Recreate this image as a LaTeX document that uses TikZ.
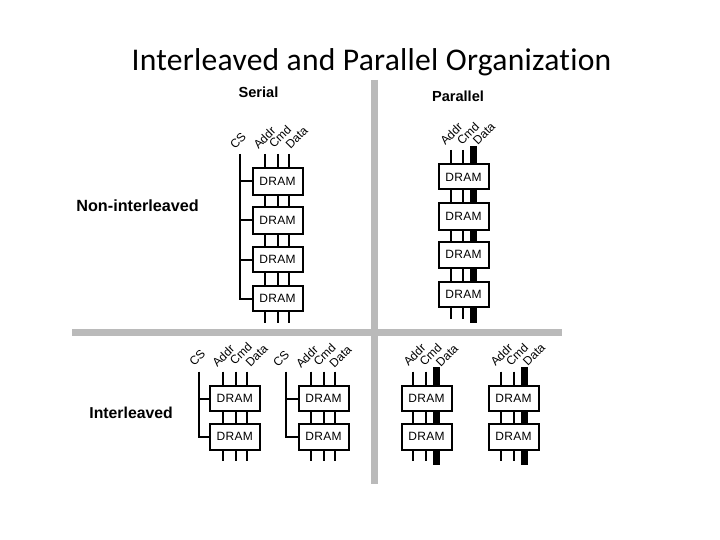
\documentclass[tikz,border=0pt]{standalone}
\usepackage{fontspec}
\setmainfont{Liberation Sans}
\newfontfamily\titlefont[Ligatures=NoCommon,LetterSpace=0.8]{Carlito}
\usetikzlibrary{backgrounds}
\tikzset{
  dram/.style={draw=black,line width=2pt,fill=white,inner sep=0pt,outer sep=0pt,font=\fontsize{12}{13}\selectfont\addfontfeature{LetterSpace=2}},
  sig/.style={draw=black,line width=2pt},
  fat/.style={draw=black,line width=7pt},
  sigtext/.style={rotate=45,inner sep=0pt,font=\fontsize{12}{13}\selectfont},
  headtext/.style={inner sep=0pt,font=\fontsize{14.6}{16}\selectfont\bfseries},
  sidetext/.style={inner sep=0pt,anchor=east,font=\fontsize{15.8}{18}\selectfont\bfseries},
  bar/.style={draw=black!27,line width=7pt},
}
\newcommand{\dramat}[5]{\node[dram,minimum width=#3pt-#2pt,minimum height=#5pt-#4pt] (#1) at ({(#2+#3)/2},{(#4+#5)/2}) {DRAM};}
\begin{document}
\begin{tikzpicture}[x=1pt,y=-1pt]
\useasboundingbox (0,0) rectangle (720,540);
\node[inner sep=0pt,font=\fontsize{31.6}{33}\selectfont\titlefont] (title) at (371.5,62) {Interleaved and Parallel Organization};
\node[headtext] (serial) at (258.5,92) {Serial};
\node[headtext] (parallel) at (458,96) {Parallel};
\node[sidetext,font=\fontsize{16.2}{18}\selectfont\bfseries] (nonint) at (199,206) {Non-interleaved};
\node[sidetext] (inter) at (173,413) {Interleaved};
% separator bars
\coordinate (vt) at (374.5,80); \coordinate (vb) at (374.5,484);
\coordinate (hl) at (72,332.5); \coordinate (hr) at (562,332.5);
\draw[bar] (vt) -- (vb);
\draw[bar] (hl) -- (hr);
% Serial non-interleaved
\dramat{a1}{252.5}{302.5}{168}{195}
\dramat{a2}{252.5}{302.5}{207}{234}
\dramat{a3}{252.5}{302.5}{247}{272}
\dramat{a4}{252.5}{302.5}{286}{311}
\coordinate (acs) at (239.5,154);
\coordinate (aA) at (265,154); \coordinate (aAb) at (265,323);
\coordinate (aC) at (278,154); \coordinate (aCb) at (278,323);
\coordinate (aD) at (289,154); \coordinate (aDb) at (289,323);
\begin{scope}[on background layer]
\draw[sig] (aA) -- (aAb); \draw[sig] (aC) -- (aCb); \draw[sig] (aD) -- (aDb);
\end{scope}
\draw[sig] (acs) -- (acs |- a4.west) -- (a4.west);
\draw[sig] (acs |- a1.west) -- (a1.west);
\draw[sig] (acs |- a2.west) -- (a2.west);
\draw[sig] (acs |- a3.west) -- (a3.west);
\node[sigtext] (aT0) at (238,141) {CS};
\node[sigtext] (aT1) at (264.5,138) {Addr};
\node[sigtext] (aT2) at (280,137) {Cmd};
\node[sigtext] (aT3) at (296.7,138) {Data};
% Parallel non-interleaved
\dramat{b1}{438.5}{488.5}{164.5}{189.5}
\dramat{b2}{438.5}{488.5}{203}{230}
\dramat{b3}{438.5}{488.5}{241.5}{267.5}
\dramat{b4}{438.5}{488.5}{281.5}{307}
\coordinate (bA) at (451.3,150); \coordinate (bAb) at (451.3,319);
\coordinate (bC) at (462.7,150); \coordinate (bCb) at (462.7,319);
\coordinate (bD) at (473,146); \coordinate (bDb) at (473,323);
\begin{scope}[on background layer]
\draw[sig] (bA) -- (bAb); \draw[sig] (bC) -- (bCb); \draw[fat] (bD) -- (bDb);
\end{scope}
\node[sigtext] (bT1) at (451.3,134) {Addr};
\node[sigtext] (bT2) at (468,134) {Cmd};
\node[sigtext] (bT3) at (484,134) {Data};
% Serial interleaved 1
\dramat{c1}{209.5}{260}{386}{411}
\dramat{c2}{209.5}{260}{424}{449.5}
\coordinate (ccs) at (198.7,371.7);
\coordinate (cA) at (222.7,371.7); \coordinate (cAb) at (222.7,461);
\coordinate (cC) at (235.7,371.7); \coordinate (cCb) at (235.7,461);
\coordinate (cD) at (246.7,371.7); \coordinate (cDb) at (246.7,461);
\begin{scope}[on background layer]
\draw[sig] (cA) -- (cAb); \draw[sig] (cC) -- (cCb); \draw[sig] (cD) -- (cDb);
\end{scope}
\draw[sig] (ccs) -- (ccs |- c2.west) -- (c2.west);
\draw[sig] (ccs |- c1.west) -- (c1.west);
\node[sigtext] (cT0) at (197.3,358) {CS};
\node[sigtext] (cT1) at (223.3,356) {Addr};
\node[sigtext] (cT2) at (240.8,354) {Cmd};
\node[sigtext] (cT3) at (256.7,356) {Data};
% Serial interleaved 2
\dramat{d1}{298.5}{348.5}{386}{411}
\dramat{d2}{298.5}{348.5}{424}{449.5}
\coordinate (dcs) at (285.7,371.7);
\coordinate (dA) at (311,371.7); \coordinate (dAb) at (311,461);
\coordinate (dC) at (324,371.7); \coordinate (dCb) at (324,461);
\coordinate (dD) at (335.3,371.7); \coordinate (dDb) at (335.3,461);
\begin{scope}[on background layer]
\draw[sig] (dA) -- (dAb); \draw[sig] (dC) -- (dCb); \draw[sig] (dD) -- (dDb);
\end{scope}
\draw[sig] (dcs) -- (dcs |- d2.west) -- (d2.west);
\draw[sig] (dcs |- d1.west) -- (d1.west);
\node[sigtext] (dT0) at (281.2,359) {CS};
\node[sigtext] (dT1) at (307,357) {Addr};
\node[sigtext] (dT2) at (324.5,355) {Cmd};
\node[sigtext] (dT3) at (340.5,357) {Data};
% Parallel interleaved 1
\dramat{e1}{401.5}{451.5}{386}{411}
\dramat{e2}{401.5}{451.5}{424}{449.5}
\coordinate (eA) at (412.7,371.7); \coordinate (eAb) at (412.7,461.3);
\coordinate (eC) at (425.7,371.7); \coordinate (eCb) at (425.7,461.3);
\coordinate (eD) at (436,367.3); \coordinate (eDb) at (436,465.3);
\begin{scope}[on background layer]
\draw[sig] (eA) -- (eAb); \draw[sig] (eC) -- (eCb); \draw[fat] (eD) -- (eDb);
\end{scope}
\node[sigtext] (eT1) at (414.5,355) {Addr};
\node[sigtext] (eT2) at (430.5,355) {Cmd};
\node[sigtext] (eT3) at (447,355.5) {Data};
% Parallel interleaved 2
\dramat{f1}{488.5}{538.5}{386}{411}
\dramat{f2}{488.5}{538.5}{424}{449.5}
\coordinate (fA) at (501.3,371.7); \coordinate (fAb) at (501.3,461.3);
\coordinate (fC) at (514.3,371.7); \coordinate (fCb) at (514.3,461.3);
\coordinate (fD) at (524.3,367.3); \coordinate (fDb) at (524.3,465.3);
\begin{scope}[on background layer]
\draw[sig] (fA) -- (fAb); \draw[sig] (fC) -- (fCb); \draw[fat] (fD) -- (fDb);
\end{scope}
\node[sigtext] (fT1) at (501.5,355) {Addr};
\node[sigtext] (fT2) at (517,355) {Cmd};
\node[sigtext] (fT3) at (534,355) {Data};
\end{tikzpicture}
\end{document}
